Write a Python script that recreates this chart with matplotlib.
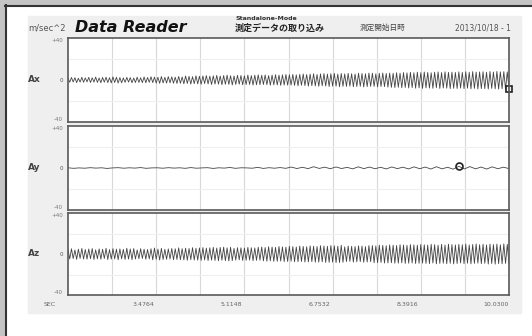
import matplotlib.pyplot as plt
import matplotlib.transforms as mtransforms
from matplotlib.patches import Rectangle
import numpy as np

plt.rcParams['font.family'] = ['DejaVu Sans', 'Noto Sans CJK JP']

# time axis (seconds) and labelled ticks
t_start = 1.8380
t_end = 10.0300
tick_vals = [3.4764, 5.1148, 6.7532, 8.3916, 10.0300]
tick_labels = ["3.4764", "5.1148", "6.7532", "8.3916", "10.0300"]
channels = ["Ax", "Ay", "Az"]

# acceleration traces (m/sec^2)
ax_vals = [1.8, -2.1, 2.4, -1.9, 2.2, -2.5, 1.7, -2.0, 2.6, -2.2, 2.0, -1.8, 2.5, -2.4, 2.1, -2.0,
           2.8, -2.3, 1.9, -2.6, 2.4, -2.1, 2.7, -2.5, 2.2, -2.8, 3.0, -2.4, 2.6, -2.9, 2.3, -2.7,
           2.0, -2.2, 2.5, -2.0, 2.3, -2.6, 1.9, -2.4, 2.7, -2.3, 2.1, -2.5, 2.9, -2.6, 2.4, -2.2,
           3.1, -2.5, 2.8, -3.0, 2.6, -3.2, 3.3, -2.8, 2.5, -2.9, 3.2, -2.7, 3.0, -3.1, 2.7, -3.3,
           3.4, -3.1, 2.9, -3.6, 3.8, -3.3, 3.5, -3.9, 3.2, -3.5, 4.0, -3.7, 3.6, -4.1, 3.9, -3.4,
           4.2, -3.8, 3.7, -4.3, 4.0, -3.9, 4.4, -4.0, 3.8, -4.5, 4.3, -4.1, 4.6, -4.2, 4.1, -4.7,
           3.9, -4.2, 4.5, -4.0, 4.3, -4.6, 4.0, -4.4, 4.7, -4.3, 4.2, -4.8, 4.6, -4.5, 4.9, -4.4,
           4.5, -4.3, 4.8, -4.4, 4.2, -4.9, 4.7, -4.6, 5.0, -4.7, 4.6, -5.1, 4.9, -4.8, 5.2, -4.9,
           5.0, -4.8, 5.3, -5.1, 4.9, -5.5, 5.4, -5.0, 5.7, -5.3, 5.2, -5.8, 5.6, -5.4, 5.9, -5.6,
           5.3, -6.0, 5.8, -5.5, 6.1, -5.7, 5.6, -6.2, 6.0, -5.8, 6.3, -5.9, 5.7, -6.4, 6.2, -6.0,
           5.8, -6.1, 6.3, -5.9, 6.0, -6.4, 5.7, -6.2, 6.5, -6.0, 6.2, -6.6, 5.9, -6.3, 6.6, -6.1,
           6.5, -6.1, 5.9, -6.6, 6.4, -6.2, 6.7, -6.3, 6.2, -6.8, 6.6, -7.0, 6.4, -7.2, 6.9, -6.9,
           6.5, -7.4, 7.1, -7.1, 6.8, -7.6, 7.3, -7.2, 6.9, -7.8, 7.5, -7.4, 7.0, -8.0, 7.6, -7.5,
           7.2, -7.7, 6.9, -7.9, 7.4, -7.3, 7.7, -8.1, 7.1, -7.6, 7.8, -7.8, 7.3, -8.2, 7.5, -7.9,
           7.2, -8.1, 7.8, -7.7, 7.3, -8.3, 7.9, -7.8, 7.4, -8.4, 8.0, -8.0, 7.5, -8.5, 7.7, -8.2,
           7.9, -8.3, 7.4, -8.6, 8.1, -8.0, 7.6, -8.4, 8.2, -8.7, 7.8, -8.3, 8.0, -8.8, 7.7, -8.6]

ay_vals = [0.2, -0.3, 0.1, -0.2, 0.3, -0.1, 0.2, -0.4, 0.1, 0.3, -0.2, 0.2, -0.1, 0.4, -0.3, 0.1,
           0.2, -0.2, 0.3, -0.1, 0.2, -0.3, 0.4, -0.2, 0.1, 0.3, -0.4, 0.2, -0.1, 0.5, -0.3, 0.2,
           0.1, -0.2, 0.6, -0.4, 0.3, -0.2, 0.4, -0.3, 0.9, -0.5, 0.7, -0.6, 1.2, -0.4, 0.8, -0.7,
           1.0, -0.5, 0.6, -0.8, 1.1, -0.6, 0.9, -0.7, 0.7, -0.9, 1.0, -0.6, 0.8, -0.9, 1.1, -0.7,
           0.9, -1.0, 1.2, -0.8, 0.7, -1.1, 1.6, -0.9, 1.3, -0.8, 0.9, -1.0, 1.1, -0.7, 0.8, -0.6]

az_vals = [4.2, -4.8, 5.1, -4.5, 3.9, -5.2, 4.7, -4.3, 5.4, -4.9, 4.4, -5.0, 4.9, -4.6, 5.3, -5.3,
           4.1, -4.7, 5.0, -5.1, 4.6, -4.4, 5.5, -5.4, 4.3, -5.0, 5.2, -4.8, 4.8, -5.6, 5.0, -4.7,
           4.5, -5.3, 5.6, -5.0, 4.9, -5.5, 5.3, -4.9, 4.0, -4.6, 5.2, -4.4, 4.7, -5.1, 4.4, -4.8,
           5.1, -5.7, 5.8, -5.2, 4.8, -5.9, 5.5, -5.4, 4.6, -5.2, 5.0, -4.9, 5.4, -5.6, 5.1, -5.3,
           6.0, -5.6, 5.2, -5.8, 5.7, -6.1, 5.4, -5.5, 6.2, -5.9, 5.6, -6.0, 5.9, -6.2, 6.3, -5.8,
           5.7, -6.4, 6.1, -6.0, 6.5, -6.3, 5.8, -6.6, 6.4, -6.1, 6.7, -6.5, 6.0, -6.8, 6.6, -6.4,
           5.5, -5.9, 6.2, -5.7, 6.0, -6.3, 5.8, -6.1, 6.4, -5.9, 6.1, -6.5, 5.9, -6.2, 6.6, -6.0,
           6.9, -6.7, 6.3, -7.0, 7.1, -6.6, 6.8, -7.2, 6.5, -7.1, 7.3, -6.9, 7.0, -7.4, 6.7, -7.3,
           7.5, -7.0, 7.2, -7.6, 6.9, -7.5, 7.7, -7.3, 7.4, -7.8, 7.1, -7.7, 7.9, -7.5, 7.6, -8.0,
           7.3, -7.9, 8.1, -7.6, 7.8, -8.2, 7.5, -8.1, 8.3, -7.9, 8.0, -8.4, 7.7, -8.3, 8.5, -8.1,
           7.0, -7.4, 7.8, -7.2, 7.5, -7.9, 7.3, -7.6, 8.0, -7.4, 7.7, -8.1, 7.2, -7.8, 8.2, -7.5,
           8.2, -8.6, 7.9, -8.5, 8.7, -8.3, 8.4, -8.8, 8.1, -8.7, 8.9, -8.5, 8.6, -9.0, 8.3, -8.9,
           9.1, -8.6, 8.8, -9.2, 8.5, -9.0, 9.2, -8.8, 8.9, -9.3, 8.6, -9.1, 9.3, -8.9, 9.0, -9.2,
           8.7, -9.4, 9.5, -8.8, 9.1, -9.6, 8.6, -9.2, 9.4, -9.0, 8.8, -9.5, 9.6, -9.1, 9.2, -9.7,
           8.9, -9.3, 9.4, -8.7, 9.0, -9.5, 9.7, -9.0, 8.8, -9.6, 9.3, -9.2, 9.8, -8.9, 9.1, -9.4,
           9.5, -9.1, 8.9, -9.8, 9.6, -9.3, 9.2, -9.9, 9.7, -9.4, 9.0, -9.6, 9.9, -9.2, 9.4, -9.7]

W, H = 532, 336
fig = plt.figure(figsize=(W / 100, H / 100), dpi=100)
fig.patch.set_facecolor('white')


def box(x0, y0, x1, y1):
    # pixel box (top-left origin) -> figure fraction rect
    return [x0 / W, 1 - y1 / H, (x1 - x0) / W, (y1 - y0) / H]


# window frame: gray strip on top/left with dark edge
bg = fig.add_axes([0, 0, 1, 1], zorder=-10)
bg.set_xlim(0, W)
bg.set_ylim(H, 0)
bg.axis('off')
bg.add_patch(Rectangle((0, 0), W, 5, color='#c4c4c4'))
bg.add_patch(Rectangle((0, 0), 5, H, color='#c4c4c4'))
bg.plot([5, W], [5.5, 5.5], color='#333333', lw=1.5)
bg.plot([5.5, 5.5], [5, H], color='#333333', lw=1.5)
bg.add_patch(Rectangle((28, 16), 493, 297, color='#efefef'))

# header texts
fig.text(28 / W, 1 - 28 / H, "m/sec^2", fontsize=6, color='#555555', va='center')
fig.text(75 / W, 1 - 27 / H, "Data Reader", fontsize=11.5, fontweight='bold',
         fontstyle='italic', color='#111111', va='center')
fig.text(236 / W, 1 - 18 / H, "Standalone-Mode", fontsize=4.5, fontweight='bold',
         color='#333333', va='center')
fig.text(235 / W, 1 - 28 / H, "測定データの取り込み", fontsize=6.5, color='#222222',
         va='center', family=['Noto Sans CJK JP', 'DejaVu Sans'], fontweight='bold')
fig.text(360 / W, 1 - 28 / H, "測定開始日時", fontsize=5.5, color='#444444',
         va='center', family=['Noto Sans CJK JP', 'DejaVu Sans'])
fig.text(455 / W, 1 - 28 / H, "2013/10/18 - 1", fontsize=5.5, color='#555555', va='center')

panels = [(38, 122), (126, 210), (213, 295)]
series = [ax_vals, ay_vals, az_vals]
grid_x = np.arange(11) * (t_end - t_start) / 10 + t_start

axes = []
for (y0, y1), name, vals in zip(panels, channels, series):
    a = fig.add_axes(box(68, y0, 509, y1))
    t = np.linspace(t_start, t_end, len(vals))
    a.set_xlim(t_start, t_end)
    a.set_ylim(-40, 40)
    for gx in grid_x[1:-1]:
        a.axvline(gx, color='#d8d8d8', lw=0.8, zorder=0)
    for gy in (-20, 20):
        a.axhline(gy, color='#efefef', lw=0.8, zorder=0)
    a.plot(t, vals, color='#444444', lw=0.6)
    a.set_xticks([])
    a.set_yticks([])
    for s in a.spines.values():
        s.set_color('#5a5a5a')
        s.set_linewidth(1.2)
    a.text(-0.012, 0.97, "+40", transform=a.transAxes, ha='right', va='center',
           fontsize=4, color='#777777')
    a.text(-0.012, 0.5, "0", transform=a.transAxes, ha='right', va='center',
           fontsize=4, color='#555555')
    a.text(-0.012, 0.03, "-40", transform=a.transAxes, ha='right', va='center',
           fontsize=4, color='#777777')
    fig.text(28 / W, 1 - ((y0 + y1) / 2 - 1) / H, name, fontsize=6.5, fontweight='bold',
             color='#444444', va='center')
    axes.append(a)

# cursor markers
axes[0].plot(t_end, ax_vals[-1], marker='s', ms=4, mfc='none', mec='#222222', mew=1.2,
             clip_on=False)
axes[1].plot(np.linspace(t_start, t_end, len(ay_vals))[70], ay_vals[70], marker='o', ms=5,
             mfc='none', mec='#222222', mew=1.2)

# time labels under the bottom panel
a3 = axes[2]
shift = mtransforms.ScaledTranslation(-13 / 100, 0, fig.dpi_scale_trans)
for v, lab in zip(tick_vals, tick_labels):
    a3.text(v, -0.11, lab, transform=mtransforms.blended_transform_factory(
        a3.transData, a3.transAxes) + shift, ha='center', va='center',
        fontsize=4.5, color='#666666')
fig.text(50 / W, 1 - 304 / H, "SEC", fontsize=4.5, color='#666666', ha='center', va='center')

fig.savefig("out.png", dpi=100)
